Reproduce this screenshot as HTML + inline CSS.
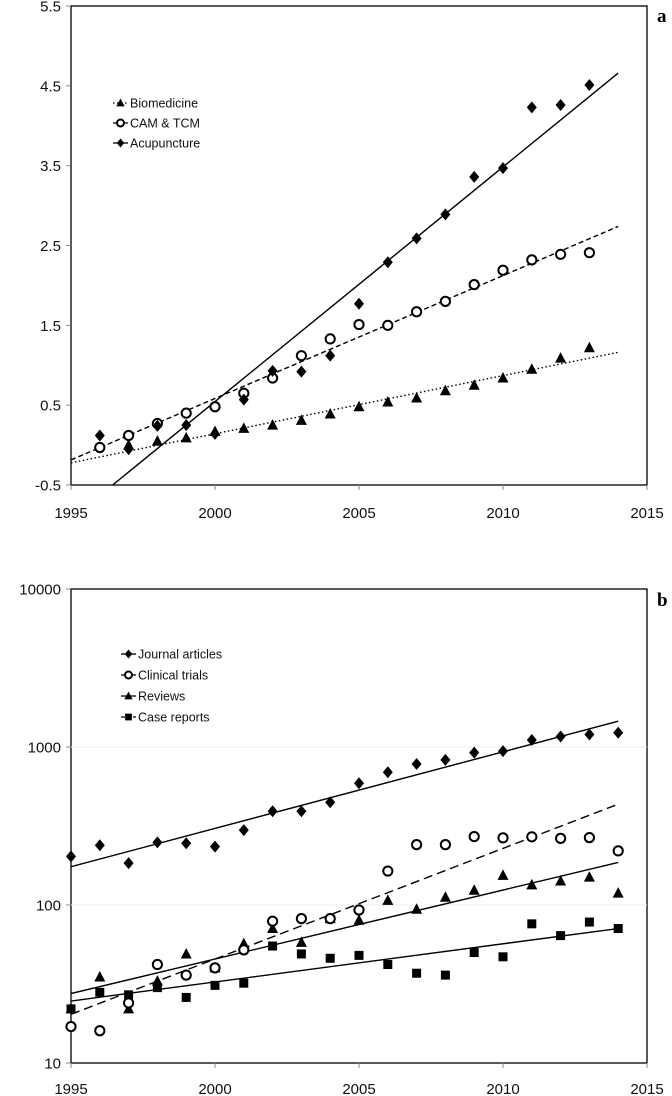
<!DOCTYPE html>
<html><head><meta charset="utf-8"><style>
html,body{margin:0;padding:0;background:#fff;}
svg{display:block;font-family:"Liberation Sans",sans-serif;}
</style></head><body>
<svg id="s" width="672" height="1096" viewBox="0 0 672 1096" xmlns="http://www.w3.org/2000/svg">
<defs>
<clipPath id="ca"><rect x="71" y="6" width="576" height="479"/></clipPath>
<clipPath id="cb"><rect x="71" y="589" width="576" height="474"/></clipPath>
</defs>
<g id="A"></g>
<g id="B"></g>
</svg>
<script>
// ---- Chart a data ----
const yearsA = [1996,1997,1998,1999,2000,2001,2002,2003,2004,2005,2006,2007,2008,2009,2010,2011,2012,2013];
const acupuncture = [0.12,-0.05,0.24,0.25,0.14,0.57,0.93,0.92,1.12,1.77,2.29,2.59,2.89,3.36,3.47,4.23,4.26,4.51];
const camTcm = [-0.03,0.12,0.27,0.40,0.48,0.65,0.84,1.12,1.33,1.51,1.50,1.67,1.80,2.01,2.19,2.32,2.39,2.41];
const yearsBio = [1997,1998,1999,2000,2001,2002,2003,2004,2005,2006,2007,2008,2009,2010,2011,2012,2013];
const biomedicine = [0.0,0.05,0.09,0.17,0.21,0.25,0.31,0.39,0.48,0.54,0.59,0.68,0.75,0.84,0.95,1.09,1.22];
const yTicksA = ["-0.5","0.5","1.5","2.5","3.5","4.5","5.5"];
const xTicks = ["1995","2000","2005","2010","2015"];
// ---- Chart b data ----
const yearsB = [1995,1996,1997,1998,1999,2000,2001,2002,2003,2004,2005,2006,2007,2008,2009,2010,2011,2012,2013,2014];
const journalArticles = [203,239,184,249,246,234,298,392,392,447,590,692,780,829,922,941,1107,1165,1200,1231];
const clinicalTrials = [17,16,24,42,36,40,52,79,82,82,93,164,241,241,271,266,270,264,267,220];
const reviews = [22,35,22,33,49,40,57,71,58,82,80,107,94,112,124,154,134,142,150,119];
const caseReports = [22,28,27,30,26,31,32,55,49,46,48,42,37,36,50,47,76,64,78,71];
const yTicksB = ["10","100","1000","10000"];

const NS="http://www.w3.org/2000/svg";
function mk(parent,tag,attrs){const e=document.createElementNS(NS,tag);for(const k in attrs)e.setAttribute(k,attrs[k]);parent.appendChild(e);return e;}
const xS = y => 71 + (y-1995)*28.8;
const yA = v => 485 - (v+0.5)*79.83;
const yB = v => 1063 - (Math.log10(v)-1)*158;

function reg(xs,ys){const n=xs.length;let sx=0,sy=0,sxx=0,sxy=0;for(let i=0;i<n;i++){sx+=xs[i];sy+=ys[i];sxx+=xs[i]*xs[i];sxy+=xs[i]*ys[i];}const b=(n*sxy-sx*sy)/(n*sxx-sx*sx);return [b,(sy-b*sx)/n];}

function marker(g,type,x,y){
  let e;
  if(type==='diamond'){e=mk(g,'polygon',{points:`${x},${y-6} ${x+5},${y} ${x},${y+6} ${x-5},${y}`,fill:'#000'});}
  else if(type==='circle'){e=mk(g,'circle',{cx:x,cy:y,r:4.6,fill:'#fff',stroke:'#000','stroke-width':2});}
  else if(type==='triangle'){e=mk(g,'polygon',{points:`${x},${y-6} ${x+5.5},${y+4.5} ${x-5.5},${y+4.5}`,fill:'#000'});}
  else {e=mk(g,'rect',{x:x-4.5,y:y-4.5,width:9,height:9,fill:'#000'});}
  return e;
}

function frame(g,top,bottom,ticksY,yFn,labY,vals){
  mk(g,'rect',{x:71,y:top,width:576,height:bottom-top,fill:'none',stroke:'#000','stroke-width':1.3});
  ticksY.forEach((t,i)=>{const y=yFn(vals[i]);
    const l=mk(g,'line',{x1:66,x2:71,y1:y,y2:y,stroke:'#888'});
    
    
    const tx=mk(g,'text',{x:61,y:y+5.5,'text-anchor':'end','font-size':15,fill:'#111'});tx.textContent=t;
    
    
  });
  xTicks.forEach(t=>{const x=xS(+t);
    const l=mk(g,'line',{x1:x,x2:x,y1:bottom,y2:bottom+5,stroke:'#888'});
    
    
    const tx=mk(g,'text',{x:x,y:labY,'text-anchor':'middle','font-size':15,fill:'#111'});tx.textContent=t;
    
    
  });
}

function series(g,clip,xs,ys,yFn,type,dash,logFit,name){
  const sg=mk(g,'g',{});
  
  
  const fy=logFit?ys.map(v=>Math.log10(v)):ys;
  const [b,a]=reg(xs,fy);
  const f=x=>logFit?Math.pow(10,a+b*x):a+b*x;
  const ln=mk(sg,'line',{x1:xS(1995),y1:yFn(f(1995)),x2:xS(2014),y2:yFn(f(2014)),stroke:'#000','stroke-width':1.4,'clip-path':`url(#${clip})`});
  if(dash)ln.setAttribute('stroke-dasharray',dash);
  
  
  xs.forEach((x,i)=>{const m=marker(sg,type,xS(x),yFn(ys[i]));
    
    
  });
}

function legend(g,items,x0,ys){
  items.forEach((it,i)=>{const y=ys[i];
    const lg=mk(g,'g',{});
    
    
    const l=mk(lg,'line',{x1:x0,x2:x0+15,y1:y,y2:y,stroke:'#000','stroke-width':1.3});
    if(it[2])l.setAttribute('stroke-dasharray',it[2]);
    const m=marker(lg,it[1],x0+7.5,y);
    if(it[1]==='circle'){m.setAttribute('r',3.5);}
    else m.setAttribute('transform',`translate(${x0+7.5},${y}) scale(0.75) translate(${-(x0+7.5)},${-y})`);
    const t=mk(lg,'text',{x:x0+17,y:y+4.5,'font-size':12.5,fill:'#111'});t.textContent=it[0];
  });
}

const A=document.getElementById('A'), B=document.getElementById('B');
frame(A,6,485,yTicksA,yA,518,yTicksA.map(Number));
series(A,'ca',yearsBio,biomedicine,yA,'triangle','1.5,2.5',false,'biomedicine');
series(A,'ca',yearsA,camTcm,yA,'circle','5,3',false,'cam-tcm');
series(A,'ca',yearsA,acupuncture,yA,'diamond',null,false,'acupuncture');
legend(A,[["Biomedicine","triangle","1.5,2.5"],["CAM & TCM","circle","4,2"],["Acupuncture","diamond",null]],113,[103,123,143]);
const la=mk(A,'text',{x:657,y:22,'font-size':19,'font-weight':'bold','font-family':'Liberation Serif, serif'});la.textContent='a';



frame(B,589,1063,yTicksB,yB,1094,yTicksB.map(Number));
[100,1000].forEach(v=>{const l=mk(B,'line',{x1:71,x2:647,y1:yB(v),y2:yB(v),stroke:'#eee'});
  
  });
series(B,'cb',yearsB,caseReports,yB,'square',null,true,'case-reports');
series(B,'cb',yearsB,reviews,yB,'triangle',null,true,'reviews');
series(B,'cb',yearsB,clinicalTrials,yB,'circle','9,5',true,'clinical-trials');
series(B,'cb',yearsB,journalArticles,yB,'diamond',null,true,'journal-articles');
legend(B,[["Journal articles","diamond",null],["Clinical trials","circle",null],["Reviews","triangle",null],["Case reports","square","4,2"]],121,[654,675,696,717]);
const lb=mk(B,'text',{x:657,y:606,'font-size':19,'font-weight':'bold','font-family':'Liberation Serif, serif'});lb.textContent='b';


</script>
</body></html>
